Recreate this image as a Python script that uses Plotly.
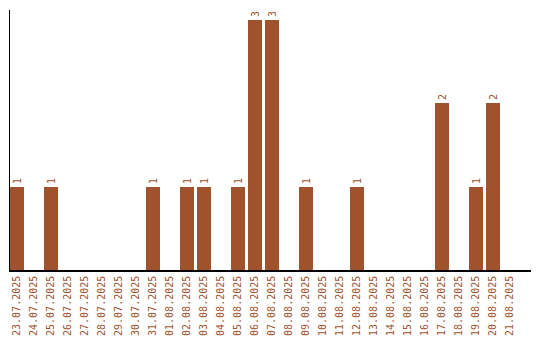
import plotly.graph_objects as go

dates = ["23.07.2025", "24.07.2025", "25.07.2025", "26.07.2025", "27.07.2025", "28.07.2025",
         "29.07.2025", "30.07.2025", "31.07.2025", "01.08.2025", "02.08.2025", "03.08.2025",
         "04.08.2025", "05.08.2025", "06.08.2025", "07.08.2025", "08.08.2025", "09.08.2025",
         "10.08.2025", "11.08.2025", "12.08.2025", "13.08.2025", "14.08.2025", "15.08.2025",
         "16.08.2025", "17.08.2025", "18.08.2025", "19.08.2025", "20.08.2025", "21.08.2025"]
values = [1, 0, 1, 0, 0, 0, 0, 0, 1, 0, 1, 1, 0, 1, 3, 3, 0, 1, 0, 0, 1, 0, 0, 0, 0, 2, 0, 1, 2, 0]

color = "#A0522D"
font = "DejaVu Sans Mono"
idx = list(range(len(dates)))
texts = [str(v) if v > 0 else "" for v in values]

fig = go.Figure(go.Bar(
    x=idx, y=values, width=14 / 17, marker=dict(color=color, line=dict(width=0)),
    text=texts, textposition="outside", textangle=-90,
    textfont=dict(family=font, size=10, color=color), cliponaxis=False,
))

r0 = -7 / 17
fig.update_layout(
    width=540, height=340, margin=dict(l=10, r=9, t=10, b=70),
    plot_bgcolor="white", paper_bgcolor="white", showlegend=False,
    bargap=0,
    xaxis=dict(range=[r0, r0 + 521 / 17], tickmode="array", tickvals=idx, ticktext=dates,
               tickangle=-90, tickfont=dict(family=font, size=10, color=color),
               showline=True, linecolor="black", linewidth=1.5, showgrid=False,
               zeroline=False, ticks="", automargin=False),
    yaxis=dict(range=[0, 260 / 83.5], showline=True, linecolor="black", linewidth=1,
               showgrid=False, zeroline=False, showticklabels=False, ticks="",
               automargin=False),
)
fig.write_html("out.html")
